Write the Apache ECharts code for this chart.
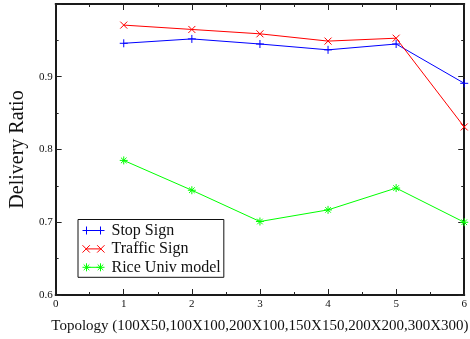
<!DOCTYPE html>
<html>
<head>
<meta charset="utf-8">
<script src="https://cdn.jsdelivr.net/npm/echarts@6/dist/echarts.min.js"></script>
<style>
  html, body { margin: 0; padding: 0; background: #fff; }
  #chart { width: 470px; height: 339px; }
</style>
</head>
<body>
<div id="chart"></div>
<script>
// Topology index on the x axis
const topologies = [1, 2, 3, 4, 5, 6];
const stopSign = [0.946, 0.952, 0.945, 0.937, 0.945, 0.891];
const trafficSign = [0.971, 0.965, 0.959, 0.949, 0.953, 0.831];
const riceUniv = [0.785, 0.744, 0.701, 0.717, 0.747, 0.700];
const yTickLabels = ['0.6', '0.7', '0.8', '0.9'];

const FONT = '"Liberation Serif", "DejaVu Serif", serif';

// Marker shapes (stroked)
const PLUS = 'path://M4,0V8M0,4H8';
const CROSS = 'path://M0,0L8,8M0,8L8,0';
const STAR = 'path://M4,0V8M0,4H8M1.2,1.2L6.8,6.8M1.2,6.8L6.8,1.2';

// Legend samples: short line with a marker at each end
const LEG_PLUS = 'path://M4,4H18M4,0V8M0,4H8M18,0V8M14,4H22';
const LEG_CROSS = 'path://M4,4H18M0.5,0.5L7.5,7.5M0.5,7.5L7.5,0.5M14.5,0.5L21.5,7.5M14.5,7.5L21.5,0.5';
const LEG_STAR = 'path://M4,4H18M4,0V8M0,4H8M1.2,1.2L6.8,6.8M1.2,6.8L6.8,1.2M18,0V8M14,4H22M15.2,1.2L20.8,6.8M15.2,6.8L20.8,1.2';

function pairs(vals) {
  return topologies.map((x, i) => [x, vals[i]]);
}

function lineSeries(name, vals, color, symbol, symbolSize) {
  return {
    name: name,
    type: 'line',
    data: pairs(vals),
    symbol: symbol,
    symbolSize: symbolSize,
    showAllSymbol: true,
    lineStyle: { color: color, width: 1 },
    itemStyle: { color: 'none', borderColor: color, borderWidth: 1 },
    emphasis: { disabled: true },
    z: 3
  };
}

const axisLineStyle = { color: '#1a1a1a', width: 2 };
const tickStyle = { color: '#222', width: 1 };

const chart = echarts.init(document.getElementById('chart'), null, { renderer: 'canvas' });

chart.setOption({
  animation: false,
  backgroundColor: '#fff',
  grid: { left: 52.5, right: 3, top: 4, bottom: 44, containLabel: false },
  xAxis: [
    {
      type: 'value', min: 0, max: 6, interval: 1, position: 'bottom',
      name: 'Topology (100X50,100X100,200X100,150X150,200X200,300X300)',
      nameLocation: 'middle', nameGap: 24,
      nameTextStyle: { fontFamily: FONT, fontSize: 15, color: '#111' },
      axisLine: { show: true, onZero: false, lineStyle: axisLineStyle },
      axisTick: { show: true, inside: true, length: 6, lineStyle: tickStyle },
      minorTick: { show: true, splitNumber: 2, length: 3, lineStyle: tickStyle },
      axisLabel: { fontFamily: FONT, fontSize: 11, color: '#111', margin: 4, showMaxLabel: true, showMinLabel: true },
      splitLine: { show: false }
    },
    {
      type: 'value', min: 0, max: 6, interval: 1, position: 'top',
      axisLine: { show: true, onZero: false, lineStyle: axisLineStyle },
      axisTick: { show: true, inside: true, length: 6, lineStyle: tickStyle },
      minorTick: { show: true, splitNumber: 2, length: 3, lineStyle: tickStyle },
      axisLabel: { show: false },
      splitLine: { show: false }
    }
  ],
  yAxis: [
    {
      type: 'value', min: 0.6, max: 1.0, interval: 0.1, position: 'left',
      name: 'Delivery Ratio',
      nameLocation: 'middle', nameGap: 26,
      nameTextStyle: { fontFamily: FONT, fontSize: 20, color: '#111' },
      axisLine: { show: true, onZero: false, lineStyle: axisLineStyle },
      axisTick: { show: true, inside: true, length: 6, lineStyle: tickStyle },
      minorTick: { show: true, splitNumber: 2, length: 3, lineStyle: tickStyle },
      axisLabel: {
        fontFamily: FONT, fontSize: 11, color: '#111', margin: 3,
        formatter: function (v) {
          const s = v.toFixed(1);
          return yTickLabels.indexOf(s) >= 0 ? s : '';
        }
      },
      splitLine: { show: false }
    },
    {
      type: 'value', min: 0.6, max: 1.0, interval: 0.1, position: 'right',
      axisLine: { show: true, onZero: false, lineStyle: axisLineStyle },
      axisTick: { show: true, inside: true, length: 6, lineStyle: tickStyle },
      minorTick: { show: true, splitNumber: 2, length: 3, lineStyle: tickStyle },
      axisLabel: { show: false },
      splitLine: { show: false }
    }
  ],
  legend: {
    orient: 'vertical',
    left: 78, top: 219.5,
    padding: [3, 3, 2, 2],
    backgroundColor: '#fff',
    borderColor: '#111', borderWidth: 1,
    itemWidth: 22, itemHeight: 8, itemGap: 2.4,
    selectedMode: false,
    textStyle: { fontFamily: FONT, fontSize: 16, color: '#111', lineHeight: 16, padding: [0, 0, 0, 2] },
    itemStyle: { borderWidth: 1, color: 'none' },
    data: [
      { name: 'Stop Sign', icon: LEG_PLUS, itemStyle: { borderColor: '#0000ff', color: 'none', borderWidth: 1 } },
      { name: 'Traffic Sign', icon: LEG_CROSS, itemStyle: { borderColor: '#ff0000', color: 'none', borderWidth: 1 } },
      { name: 'Rice Univ model', icon: LEG_STAR, itemStyle: { borderColor: '#00ff00', color: 'none', borderWidth: 1 } }
    ]
  },
  series: [
    lineSeries('Stop Sign', stopSign, '#0000ff', PLUS, 8),
    lineSeries('Traffic Sign', trafficSign, '#ff0000', CROSS, 7),
    lineSeries('Rice Univ model', riceUniv, '#00ff00', STAR, 8)
  ]
});
</script>
</body>
</html>
